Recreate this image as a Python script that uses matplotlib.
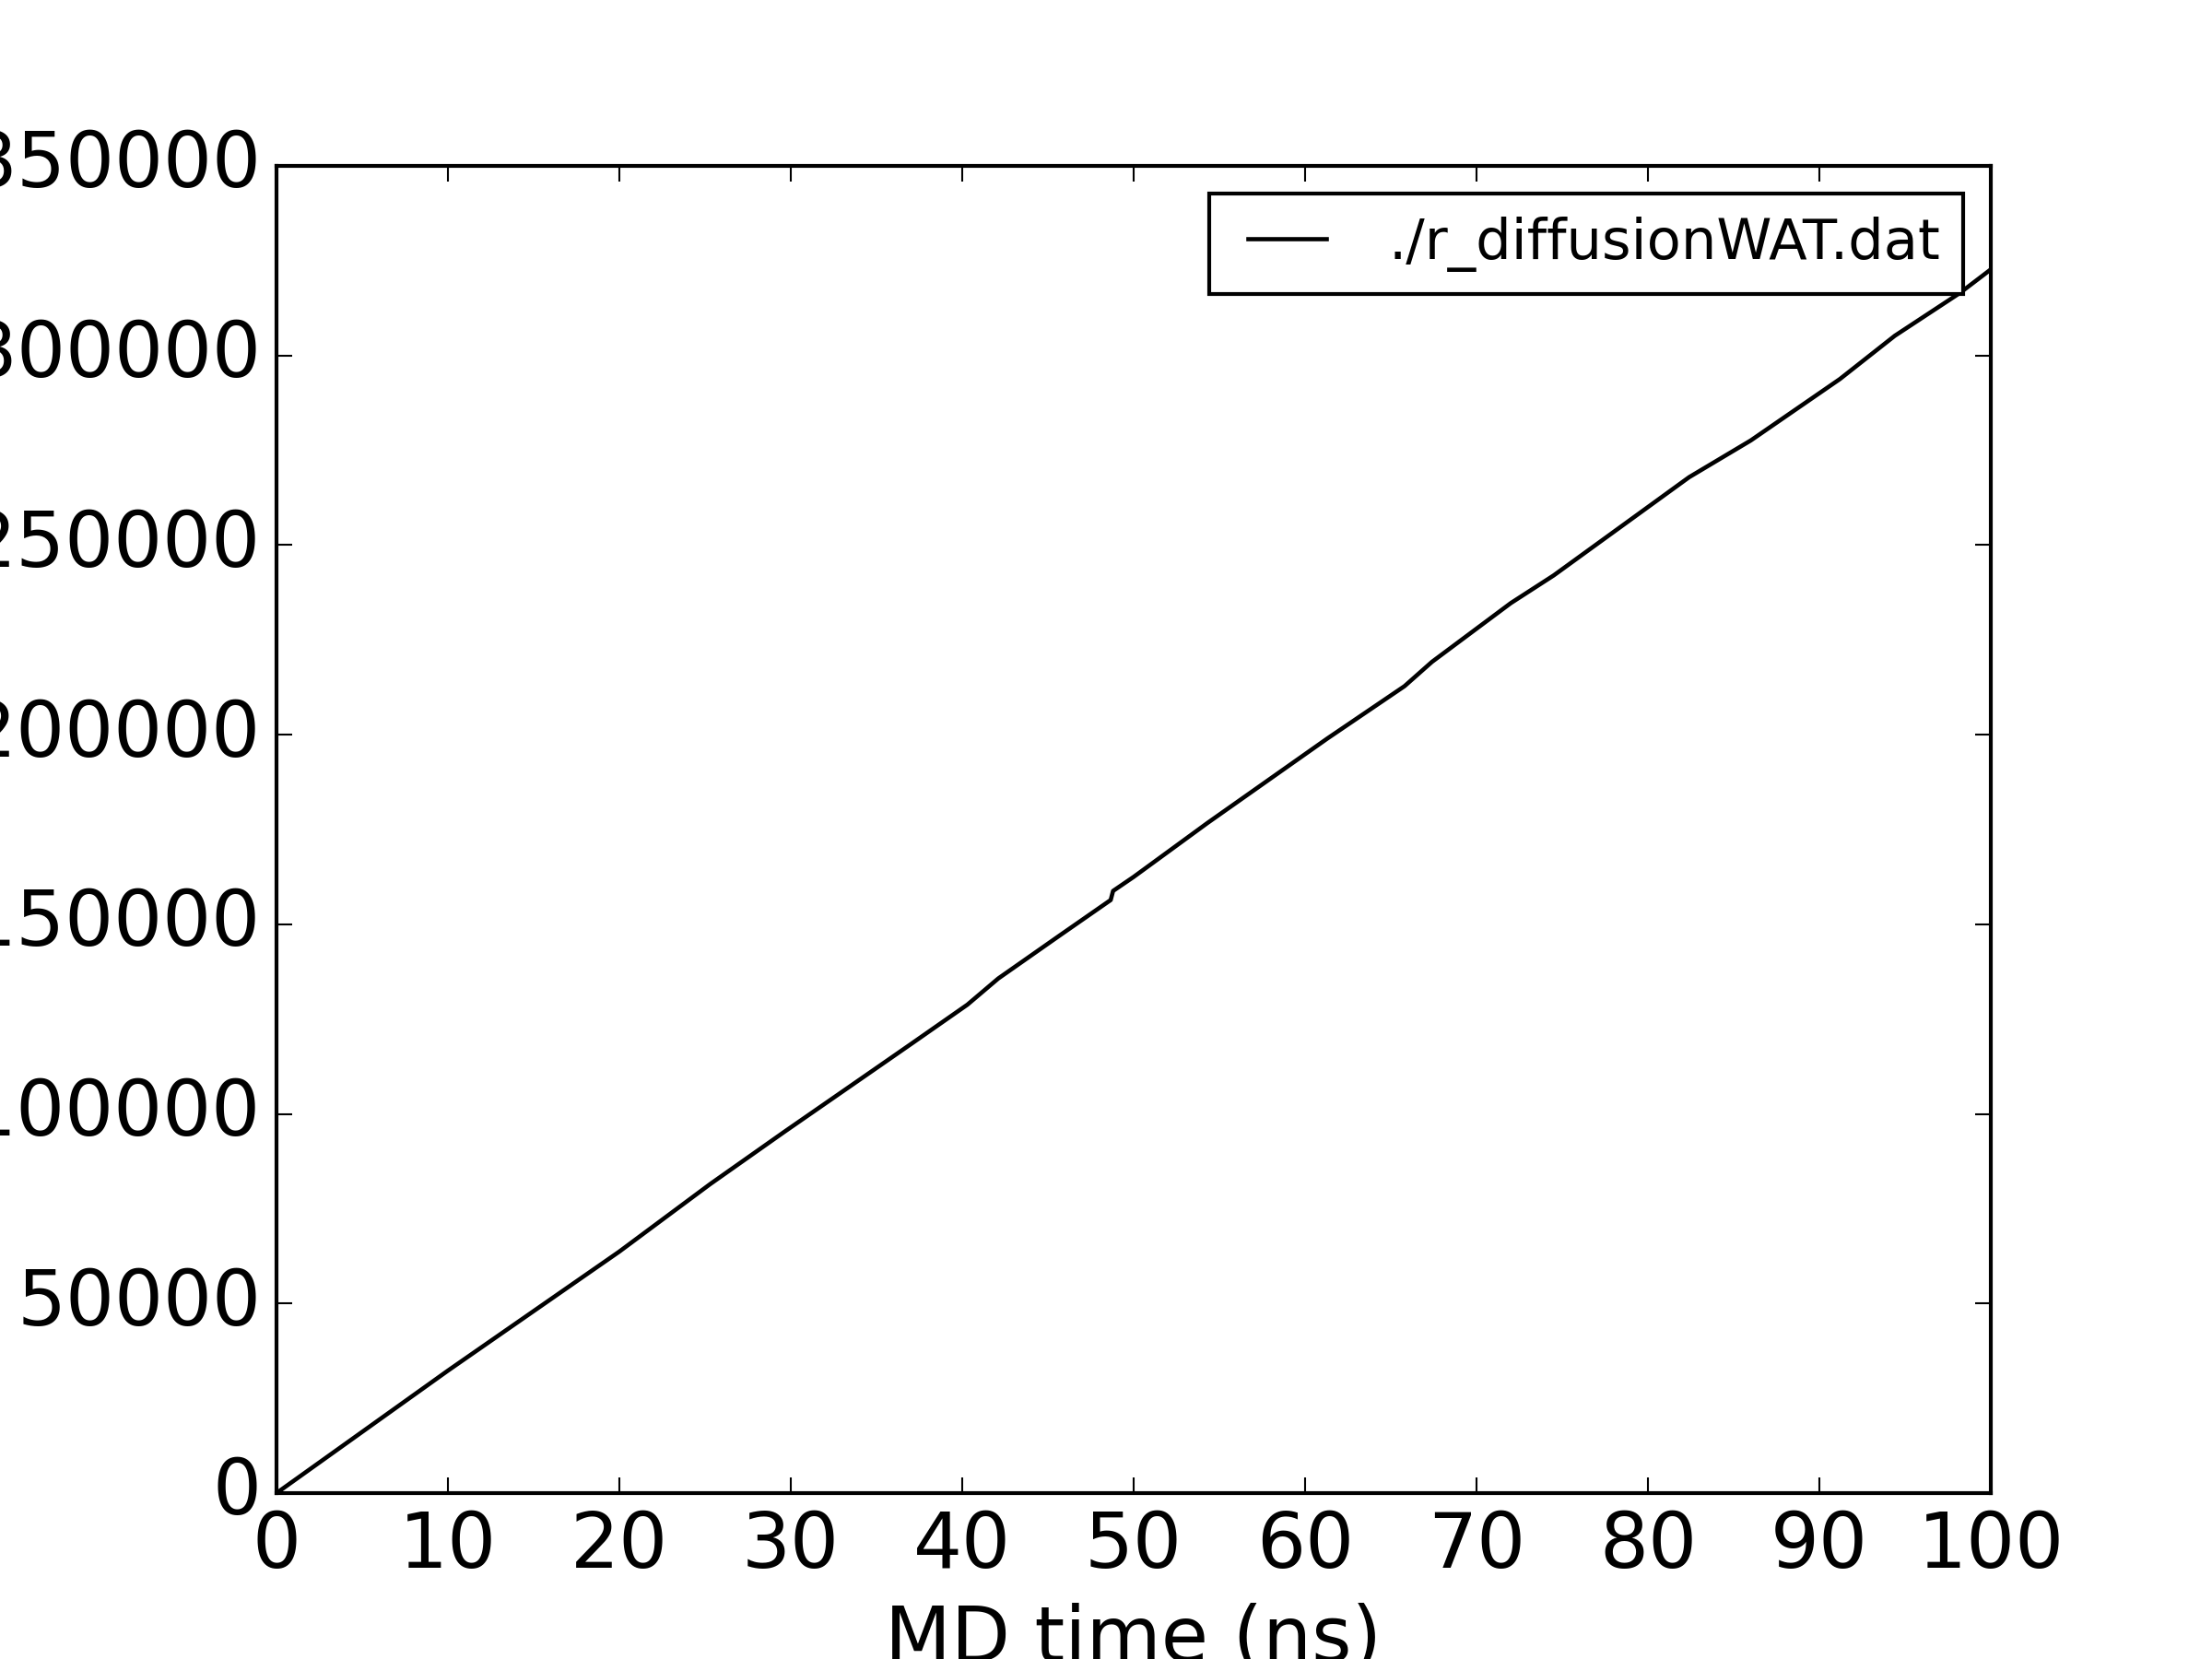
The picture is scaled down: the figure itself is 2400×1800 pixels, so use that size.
import matplotlib
matplotlib.use("Agg")
import matplotlib.pyplot as plt

plt.style.use('classic')

# values
time_ns = [0.0, 10.0, 20.0, 25.3, 29.6, 34.9, 37.1, 40.3, 42.1, 45.7, 48.66,
           48.8, 50.0, 54.3, 61.3, 65.8, 67.4, 72.0, 74.5, 82.4, 86.0, 91.2,
           94.4, 98.2, 100.0]
msd = [0, 32300, 63700, 81500, 95200, 111800, 118700, 128800, 135700, 147100,
       156400, 158800, 162500, 176700, 199000, 212800, 219200, 234700, 242000,
       267900, 277600, 293800, 305200, 316500, 322700]
x_ticks = [0, 10, 20, 30, 40, 50, 60, 70, 80, 90, 100]
label = "./r_diffusionWAT.dat"

fig = plt.figure(figsize=(8, 6), dpi=300)
ax = fig.add_subplot(111)
ax.plot(time_ns, msd, color='k', linewidth=1.1, label=label)

ax.set_xlim(0, 100)
ax.set_ylim(0, 350000)
ax.set_xticks(x_ticks)
ax.tick_params(labelsize=20)
ax.set_xlabel("MD time (ns)", fontsize=20)
ax.legend(loc='upper right', fontsize=14.6)

fig.savefig("out.png", dpi=300)
